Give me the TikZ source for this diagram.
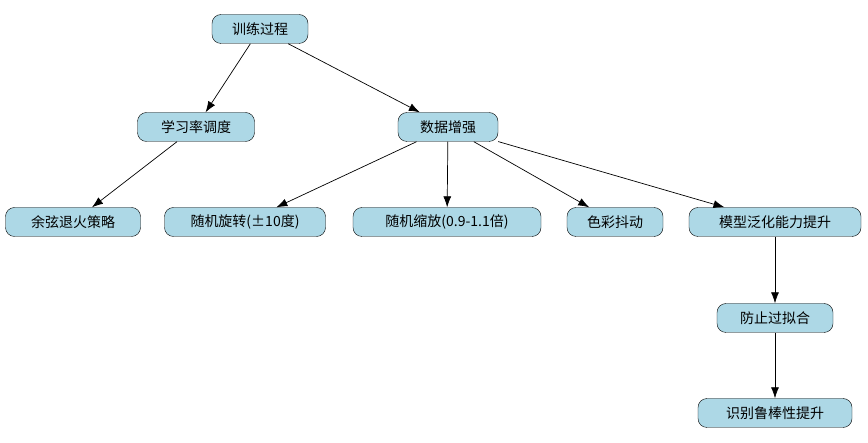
\documentclass[tikz,border=0pt]{standalone}
\usepackage{fontspec}
\setmainfont{Noto Sans CJK SC}
\usetikzlibrary{arrows.meta}
\begin{document}
\begin{tikzpicture}[x=1pt,y=-1pt,
  box/.style={draw=black,fill={rgb,255:red,173;green,216;blue,230},rounded corners=9pt,minimum height=29pt,inner xsep=8pt,font=\fontsize{14}{16}\selectfont},
  arr/.style={-{Latex[length=11pt,width=8pt]},line width=0.7pt}]
\useasboundingbox (0,0) rectangle (868,443);
\node[box,minimum width=96pt] (a) at (260,29) {训练过程};
\node[box,minimum width=117pt] (b) at (196,127) {学习率调度};
\node[box,minimum width=100pt] (c) at (448,127) {数据增强};
\node[box,minimum width=135pt] (d) at (73,222) {余弦退火策略};
\node[box,minimum width=161pt] (e) at (245,222) {随机旋转(±10度)};
\node[box,minimum width=188pt] (f) at (447,222) {随机缩放(0.9-1.1倍)};
\node[box,minimum width=96pt] (g) at (615,222) {色彩抖动};
\node[box,minimum width=172pt] (h) at (775,222) {模型泛化能力提升};
\node[box,minimum width=116pt] (i) at (775,318) {防止过拟合};
\node[box,minimum width=154pt] (j) at (775,413) {识别鲁棒性提升};
\draw[arr] (a) -- (b);
\draw[arr] (a) -- (c);
\draw[arr] (b) -- (d);
\draw[arr] (c) -- (e);
\draw[arr] (c) -- (f);
\draw[arr] (c) -- (g);
\draw[arr] (c) -- (h);
\draw[arr] (h) -- (i);
\draw[arr] (i) -- (j);
\end{tikzpicture}
\end{document}
